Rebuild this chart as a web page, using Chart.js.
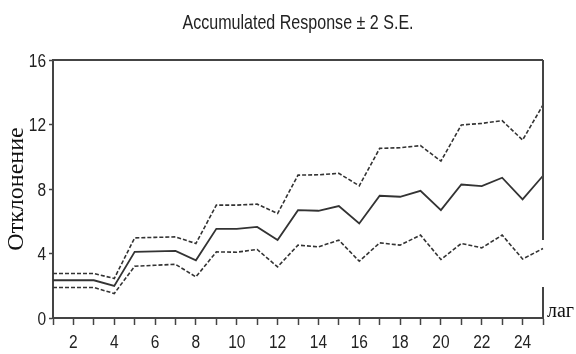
<!DOCTYPE html>
<html>
<head>
<meta charset="utf-8">
<script src="https://cdn.jsdelivr.net/npm/chart.js@4/dist/chart.umd.min.js"></script>
<style>
  html, body { margin: 0; padding: 0; background: #ffffff; }
  canvas { display: block; }
</style>
</head>
<body>
<canvas id="chart" width="576" height="354"></canvas>
<script>
// Lags 1..25 of the impulse response
const lags = [1, 2, 3, 4, 5, 6, 7, 8, 9, 10, 11, 12, 13, 14, 15, 16, 17, 18, 19, 20, 21, 22, 23, 24, 25];

// Accumulated response and its ±2 S.E. band
const response = [2.34, 2.34, 2.34, 1.99, 4.10, 4.13, 4.16, 3.58, 5.53, 5.53, 5.65, 4.83, 6.69, 6.65, 6.94, 5.86, 7.58, 7.52, 7.89, 6.69, 8.28, 8.18, 8.70, 7.36, 8.82];
const upperBand = [2.76, 2.76, 2.76, 2.45, 4.97, 5.00, 5.03, 4.62, 7.00, 7.00, 7.06, 6.48, 8.86, 8.88, 8.97, 8.20, 10.52, 10.56, 10.69, 9.73, 11.97, 12.07, 12.24, 11.04, 13.21];
const lowerBand = [1.89, 1.89, 1.89, 1.52, 3.21, 3.27, 3.33, 2.55, 4.10, 4.08, 4.25, 3.17, 4.52, 4.41, 4.83, 3.52, 4.66, 4.52, 5.14, 3.63, 4.62, 4.35, 5.14, 3.66, 4.31];

// Axis labels
const yTicks = [0, 4, 8, 12, 16];
const xTickLabels = lags.map(l => (l % 2 === 0 ? String(l) : ''));
const titleText = 'Accumulated Response \u00b1 2 S.E.';
const yTitle = 'Отклонение';
const xTitle = 'лаг';

const axisColor = '#444444';
const lineColor = '#333333';
const textColor = '#222222';
const sansFont = "'Liberation Sans', Arial, sans-serif";
const serifFont = "'Liberation Serif', 'Times New Roman', serif";

// Draws text compressed horizontally to mimic a narrow typeface
function narrowText(ctx, text, x, y, squeeze, align) {
  ctx.save();
  ctx.translate(x, y);
  ctx.scale(squeeze, 1);
  ctx.textAlign = align;
  ctx.textBaseline = 'alphabetic';
  ctx.fillText(text, 0, 0);
  ctx.restore();
}

// Frame top/right sides, narrow title and tick labels, x-axis caption
const framePlugin = {
  id: 'frame',
  afterDraw(chart) {
    const { ctx, chartArea: a, scales } = chart;
    ctx.save();
    ctx.strokeStyle = axisColor;
    ctx.lineWidth = 2;
    ctx.beginPath();
    ctx.moveTo(a.left, a.top);
    ctx.lineTo(a.right, a.top);
    ctx.moveTo(a.right, a.top);
    ctx.lineTo(a.right, a.top + 180);
    ctx.moveTo(a.right, a.top + 227);
    ctx.lineTo(a.right, a.bottom);
    ctx.stroke();

    ctx.fillStyle = textColor;
    ctx.font = '21px ' + sansFont;
    narrowText(ctx, titleText, (a.left + a.right) / 2, 29, 0.765, 'center');

    ctx.font = '18px ' + sansFont;
    scales.x.ticks.forEach((t, i) => {
      const label = xTickLabels[i];
      if (label) narrowText(ctx, label, scales.x.getPixelForTick(i), a.bottom + 30, 0.86, 'center');
    });
    yTicks.forEach(v => {
      narrowText(ctx, String(v), a.left - 7, scales.y.getPixelForValue(v) + 6.5, 0.86, 'right');
    });

    ctx.fillStyle = '#111111';
    ctx.font = '20px ' + serifFont;
    ctx.textAlign = 'left';
    ctx.textBaseline = 'alphabetic';
    ctx.fillText(xTitle, a.right + 4, a.bottom - 1);
    ctx.restore();
  }
};

new Chart(document.getElementById('chart'), {
  type: 'line',
  data: {
    labels: lags,
    datasets: [
      {
        data: upperBand,
        borderColor: lineColor,
        borderWidth: 1.6,
        borderDash: [4, 2],
        pointRadius: 0,
        tension: 0,
        fill: false
      },
      {
        data: response,
        borderColor: lineColor,
        borderWidth: 1.8,
        pointRadius: 0,
        tension: 0,
        fill: false
      },
      {
        data: lowerBand,
        borderColor: lineColor,
        borderWidth: 1.6,
        borderDash: [4, 2],
        pointRadius: 0,
        tension: 0,
        fill: false
      }
    ]
  },
  options: {
    responsive: false,
    animation: false,
    layout: { padding: { left: 0, right: 33, top: 60, bottom: 0 } },
    plugins: {
      legend: { display: false },
      tooltip: { enabled: false },
      title: { display: false }
    },
    scales: {
      x: {
        type: 'category',
        offset: false,
        grid: {
          drawOnChartArea: false,
          drawTicks: true,
          tickLength: 7,
          tickColor: axisColor,
          tickWidth: 1.5,
          offset: false
        },
        border: { display: true, color: axisColor, width: 2 },
        ticks: { display: false, autoSkip: false, maxRotation: 0 },
        afterFit(scale) { scale.height = 36; }
      },
      y: {
        min: 0,
        max: 16,
        afterBuildTicks(scale) { scale.ticks = yTicks.map(v => ({ value: v })); },
        grid: {
          drawOnChartArea: false,
          drawTicks: true,
          tickLength: 4,
          tickColor: axisColor,
          tickWidth: 1.5
        },
        border: { display: true, color: axisColor, width: 2 },
        ticks: { display: false },
        title: {
          display: true,
          text: yTitle,
          color: '#111111',
          font: { family: serifFont, size: 24 },
          padding: { top: 2, bottom: 0 }
        },
        afterFit(scale) { scale.width = 53; }
      }
    }
  },
  plugins: [framePlugin]
});
</script>
</body>
</html>
